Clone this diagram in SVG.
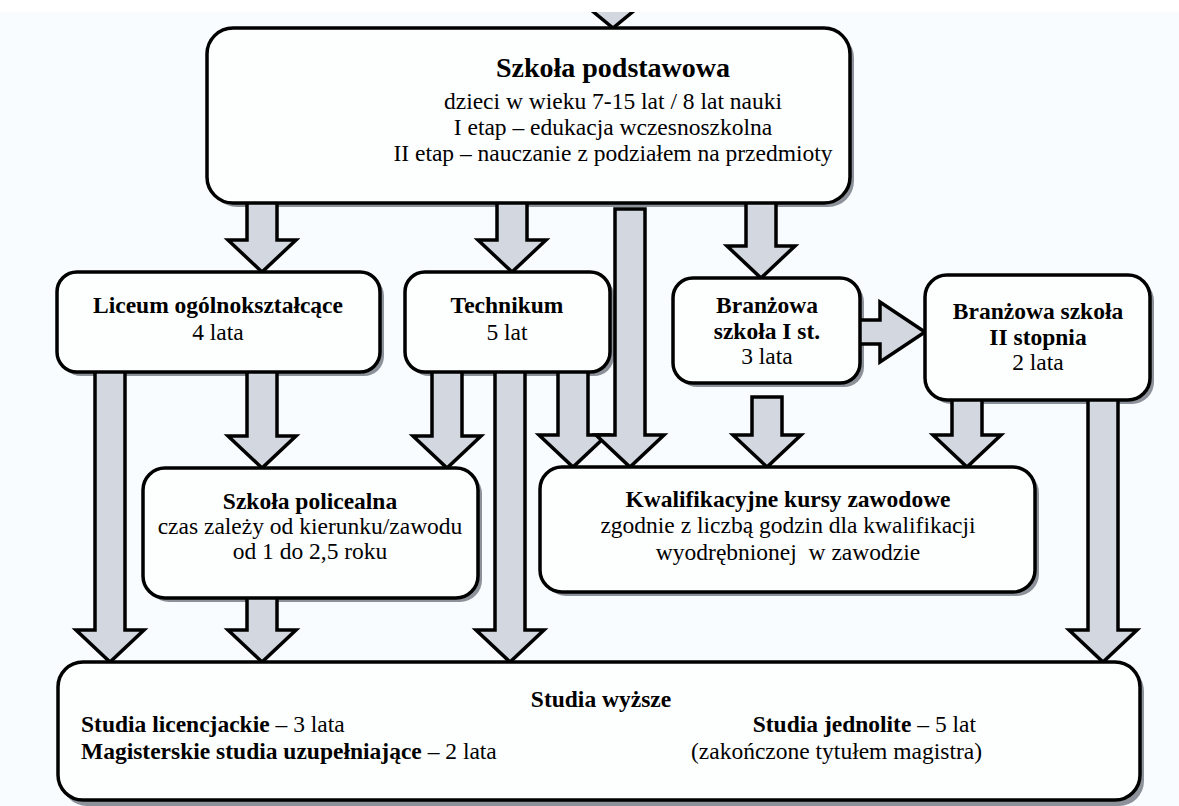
<svg xmlns="http://www.w3.org/2000/svg" width="1179" height="806" viewBox="0 0 1179 806">
<style>
.bg{fill:#f9fcfe}
.sh{fill:#8d929a}
.box{fill:#fdfefe;stroke:#000;stroke-width:3.5}
.ar{fill:#d3d8e0;stroke:#000;stroke-width:3.5;stroke-linejoin:miter}
text{font-family:"Liberation Serif","Times New Roman",serif;fill:#000;font-size:23.5px}
.c{text-anchor:middle}
.b{font-weight:bold}
.t{font-size:28px;font-weight:bold}
</style>
<rect class="bg" x="0" y="0" width="1179" height="806"/>
<g id="shadows">
<rect class="sh" x="211" y="32" width="643" height="175" rx="26"/>
<rect class="sh" x="61" y="276" width="323" height="100" rx="20"/>
<rect class="sh" x="409" y="276" width="205" height="100" rx="20"/>
<rect class="sh" x="677" y="282" width="187" height="105" rx="20"/>
<rect class="sh" x="929" y="279" width="225" height="125" rx="22"/>
<rect class="sh" x="147" y="472" width="335" height="130" rx="22"/>
<rect class="sh" x="544" y="471" width="495" height="125" rx="22"/>
<rect class="sh" x="62" y="666" width="1082" height="140" rx="25"/>
</g>
<g id="connectors">
<polygon class="ar" points="598,-10 628,-10 628,0 647,0 613,28 579,0 598,0"/>
<polygon class="ar" points="247,200 277,200 277,240 296,240 262,272 228,240 247,240"/>
<polygon class="ar" points="497,200 527,200 527,240 546,240 512,272 478,240 497,240"/>
<polygon class="ar" points="746,200 776,200 776,246 795,246 761,278 727,246 746,246"/>
<polygon class="ar" points="95,369 125,369 125,630 144,630 110,662 76,630 95,630"/>
<polygon class="ar" points="247,369 277,369 277,436 296,436 262,468 228,436 247,436"/>
<polygon class="ar" points="432,369 462,369 462,436 481,436 447,468 413,436 432,436"/>
<polygon class="ar" points="495,369 525,369 525,630 544,630 510,662 476,630 495,630"/>
<polygon class="ar" points="558,369 588,369 588,435 607,435 573,467 539,435 558,435"/>
<polygon class="ar" points="615,209 645,209 645,435 664,435 630,467 596,435 615,435"/>
<polygon class="ar" points="857,320 880,320 880,302 925,332 880,362 880,344 857,344"/>
<polygon class="ar" points="752,397 782,397 782,435 801,435 767,467 733,435 752,435"/>
<polygon class="ar" points="952,397 982,397 982,435 1001,435 967,467 933,435 952,435"/>
<polygon class="ar" points="1088,397 1118,397 1118,630 1137,630 1103,662 1069,630 1088,630"/>
<polygon class="ar" points="247,595 277,595 277,630 296,630 262,662 228,630 247,630"/>
</g>
<rect x="0" y="0" width="1179" height="12" fill="#ffffff"/>
<g id="n-podstawowa">
<rect class="box" x="207" y="28" width="643" height="175" rx="26"/>
<text class="c t" x="613" y="77">Szkoła podstawowa</text>
<text class="c" x="613" y="109">dzieci w wieku 7-15 lat / 8 lat nauki</text>
<text class="c" x="613" y="135">I etap – edukacja wczesnoszkolna</text>
<text class="c" x="613" y="161">II etap – nauczanie z podziałem na przedmioty</text>
</g>
<g id="n-liceum">
<rect class="box" x="57" y="272" width="323" height="100" rx="20"/>
<text class="c b" x="218" y="313">Liceum ogólnokształcące</text>
<text class="c" x="218" y="340">4 lata</text>
</g>
<g id="n-technikum">
<rect class="box" x="405" y="272" width="205" height="100" rx="20"/>
<text class="c b" x="507" y="313">Technikum</text>
<text class="c" x="507" y="340">5 lat</text>
</g>
<g id="n-branzowa1">
<rect class="box" x="673" y="278" width="187" height="105" rx="20"/>
<text class="c b" x="767" y="313">Branżowa</text>
<text class="c b" x="767" y="339">szkoła I st.</text>
<text class="c" x="767" y="364">3 lata</text>
</g>
<g id="n-branzowa2">
<rect class="box" x="925" y="275" width="225" height="125" rx="22"/>
<text class="c b" x="1038" y="319">Branżowa szkoła</text>
<text class="c b" x="1038" y="345">II stopnia</text>
<text class="c" x="1038" y="370">2 lata</text>
</g>
<g id="n-policealna">
<rect class="box" x="143" y="468" width="335" height="130" rx="22"/>
<text class="c b" x="310" y="509">Szkoła policealna</text>
<text class="c" x="310" y="534">czas zależy od kierunku/zawodu</text>
<text class="c" x="310" y="559">od 1 do 2,5 roku</text>
</g>
<g id="n-kwalifikacyjne">
<rect class="box" x="540" y="467" width="495" height="125" rx="22"/>
<text class="c b" x="788" y="507">Kwalifikacyjne kursy zawodowe</text>
<text class="c" x="788" y="533">zgodnie z liczbą godzin dla kwalifikacji</text>
<text class="c" x="788" y="560" xml:space="preserve">wyodrębnionej  w zawodzie</text>
</g>
<g id="n-studia">
<rect class="box" x="58" y="662" width="1082" height="138" rx="25"/>
<text class="c b" x="601" y="707">Studia wyższe</text>
<text x="81" y="732"><tspan class="b">Studia licencjackie</tspan> – 3 lata</text>
<text x="81" y="759"><tspan class="b">Magisterskie studia uzupełniające</tspan> – 2 lata</text>
<text x="976" y="732" text-anchor="end"><tspan class="b">Studia jednolite</tspan> – 5 lat</text>
<text x="982" y="759" text-anchor="end">(zakończone tytułem magistra)</text>
</g>
</svg>
